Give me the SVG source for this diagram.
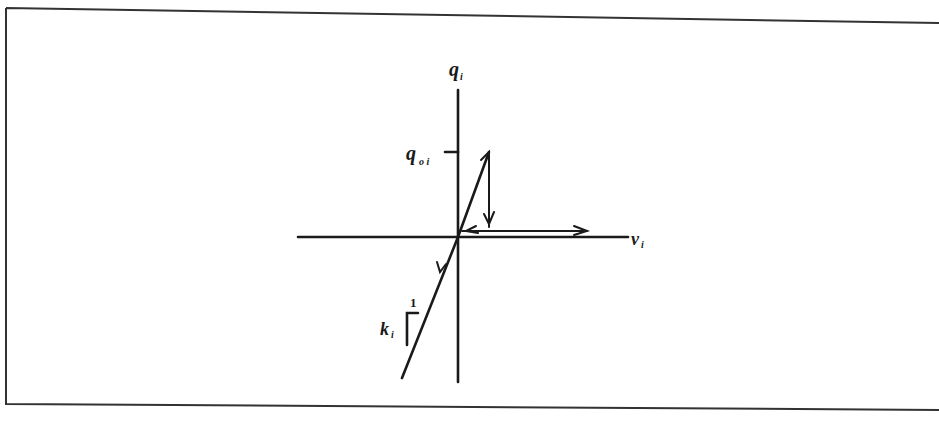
<svg xmlns="http://www.w3.org/2000/svg" width="939" height="421" viewBox="0 0 939 421">
<style>
.ln{stroke:#1a1a1a;stroke-width:2.6;fill:none;stroke-linecap:round}
.thin{stroke:#1a1a1a;stroke-width:2;fill:none;stroke-linecap:round}
.frame{stroke:#333;stroke-width:2;fill:none}
.lbl{font-family:"Liberation Serif",serif;font-style:italic;font-weight:bold;fill:#1a1a1a}
</style>
<rect width="939" height="421" fill="#fff"/>
<g id="frame">
<path class="frame" d="M6,8 L939,23 M6,8 L6,404 L939,410"/>
</g>
<g id="axes">
<line class="ln" x1="458" y1="90" x2="458" y2="382"/>
<line class="ln" x1="298" y1="237" x2="628" y2="237"/>
<line class="ln" x1="445" y1="152" x2="458" y2="152"/>
</g>
<g id="connectors">
<line class="ln" x1="458" y1="237" x2="489" y2="152"/>
<path class="thin" d="M481,160 L489,152 L489,164"/>
<line class="thin" x1="489" y1="152" x2="489" y2="227"/>
<path class="thin" d="M484,214 L489,224 L494,212"/>
<line class="thin" x1="462" y1="231" x2="587" y2="231"/>
<path class="thin" d="M476,226 L466,231 L478,233"/>
<path class="thin" d="M574,226 L587,231 L574,235"/>
<line class="ln" x1="458" y1="237" x2="402" y2="378"/>
<path class="thin" d="M437,262 L440,272 L446,264"/>
<path class="ln" d="M407,345 L407,313 L418,313"/>
</g>
<g id="labels">
<text class="lbl" x="449" y="76" font-size="20">q</text>
<text class="lbl" x="460" y="80" font-size="10">i</text>
<text class="lbl" x="406" y="160" font-size="20">q</text>
<text class="lbl" x="419" y="165" font-size="10">o i</text>
<text class="lbl" x="631" y="245" font-size="18">v</text>
<text class="lbl" x="641" y="248" font-size="10">i</text>
<text class="lbl" x="380" y="335" font-size="18">k</text>
<text class="lbl" x="391" y="338" font-size="10">i</text>
<text x="410" y="307" font-size="13" font-weight="bold" font-family="Liberation Serif,serif" fill="#1a1a1a">1</text>
</g>
</svg>
